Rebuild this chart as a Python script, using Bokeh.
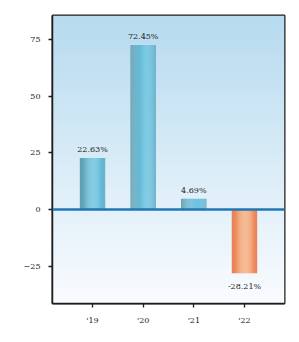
import numpy as np
from bokeh.plotting import figure
from bokeh.models import Range1d, FixedTicker, Span, ColumnDataSource, LabelSet
from bokeh.core.properties import value
from bokeh.embed import file_html
from bokeh.resources import INLINE

years = ["'19", "'20", "'21", "'22"]
returns = [22.63, 72.45, 4.69, -28.21]
labels = ["22.63%", "72.45%", "4.69%", "-28.21%"]
y_ticks = [-25, 0, 25, 50, 75]

FONT = "DejaVu Serif"
x_lo, x_hi = -0.79, 3.79
y_lo, y_hi = -41.5, 85.5

p = figure(width=299, height=342, output_backend="svg", toolbar_location=None,
           x_range=Range1d(x_lo, x_hi), y_range=Range1d(y_lo, y_hi),
           min_border_left=52, min_border_right=15, min_border_top=15, min_border_bottom=39)
p.xgrid.visible = False
p.ygrid.visible = False
p.background_fill_color = "#ffffff"
p.border_fill_color = "#ffffff"
p.outline_line_color = "#1e1e1e"
p.outline_line_width = 2
p.outline_line_alpha = 1.0

# background vertical gradient
H = 128
t = np.linspace(0, 1, H)[:, None]  # 0 bottom -> 1 top
top = np.array([183, 219, 239])
bot = np.array([250, 252, 255])
col = bot + (top - bot) * t
img = np.zeros((H, 1), dtype=np.uint32)
view = img.view(dtype=np.uint8).reshape((H, 1, 4))
view[:, 0, 0] = col[:, 0]
view[:, 0, 1] = col[:, 1]
view[:, 0, 2] = col[:, 2]
view[:, 0, 3] = 255
p.image_rgba(image=[img], x=x_lo, y=y_lo, dw=x_hi - x_lo, dh=y_hi - y_lo, level="underlay")

# bars with horizontal cylinder-like gradient
bar_w = 0.5
N = 24
blue_edge = np.array([94, 152, 168])
blue_peak = np.array([108, 196, 224])
blue_right = np.array([98, 172, 198])
or_edge = np.array([230, 118, 74])
or_peak = np.array([247, 172, 122])
or_right = np.array([232, 122, 78])

def grad(frac, edge, peak, right, pk):
    if frac <= pk:
        s = frac / pk
        c = edge + (peak - edge) * np.sin(s * np.pi / 2)
    else:
        s = (frac - pk) / (1 - pk)
        c = peak + (right - peak) * (1 - np.cos(s * np.pi / 2))
    return "#%02x%02x%02x" % tuple(int(round(v)) for v in c)

xs, tops, bottoms, colors = [], [], [], []
sw = bar_w / N
for i, r in enumerate(returns):
    for k in range(N):
        frac = (k + 0.5) / N
        xs.append(i - bar_w / 2 + sw * (k + 0.5))
        tops.append(max(r, 0))
        bottoms.append(min(r, 0))
        if r >= 0:
            colors.append(grad(frac, blue_edge, blue_peak, blue_right, 0.62))
        else:
            colors.append(grad(frac, or_edge, or_peak, or_right, 0.55))
p.vbar(x=xs, width=sw * 1.08, top=tops, bottom=bottoms, fill_color=colors, line_color=None)

zero = Span(location=0, dimension="width", line_color="#1f77b4", line_width=2.5)
p.add_layout(zero)

# value labels
pos = [(i, r, l) for i, (r, l) in enumerate(zip(returns, labels)) if r >= 0]
neg = [(i, r, l) for i, (r, l) in enumerate(zip(returns, labels)) if r < 0]
src_pos = ColumnDataSource(dict(x=[a[0] for a in pos], y=[a[1] for a in pos], t=[a[2] for a in pos]))
src_neg = ColumnDataSource(dict(x=[a[0] for a in neg], y=[a[1] for a in neg], t=[a[2] for a in neg]))
p.add_layout(LabelSet(x="x", y="y", text="t", source=src_pos, text_align="center",
                      text_baseline="bottom", y_offset=4, text_font=value(FONT),
                      text_font_size="8px", text_color="#222222"))
p.add_layout(LabelSet(x="x", y="y", text="t", source=src_neg, text_align="center",
                      text_baseline="top", y_offset=-9, text_font=value(FONT),
                      text_font_size="8px", text_color="#222222"))

# axes
p.xaxis.ticker = FixedTicker(ticks=list(range(len(years))))
p.xaxis.major_label_overrides = {i: y for i, y in enumerate(years)}
p.yaxis.ticker = FixedTicker(ticks=y_ticks)
p.yaxis.major_label_overrides = {v: (str(v) if v >= 0 else "\u2212" + str(-v)) for v in y_ticks}
for ax in (p.xaxis[0], p.yaxis[0]):
    ax.axis_line_color = "#1e1e1e"
    ax.axis_line_width = 1.5
    ax.major_tick_line_color = "#1e1e1e"
    ax.major_tick_line_width = 1.3
    ax.major_tick_in = 0
    ax.major_tick_out = 4
    ax.minor_tick_line_color = None
    ax.major_label_text_font = FONT
    ax.major_label_text_font_size = "8px"
    ax.major_label_text_color = "#222222"
p.xaxis.major_label_standoff = 8
p.yaxis.major_label_standoff = 8

open("out.html", "w").write(file_html(p, INLINE))
